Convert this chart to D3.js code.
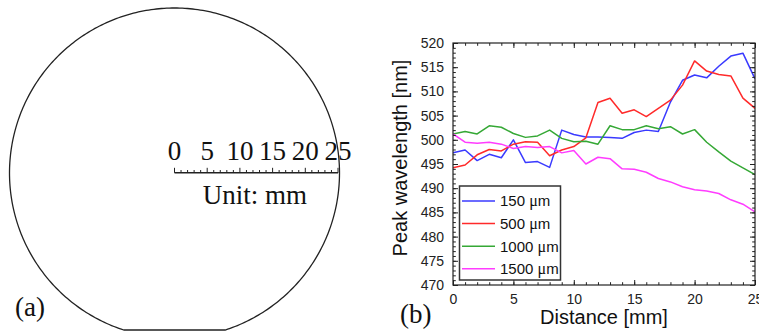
<!DOCTYPE html>
<html>
<head>
<meta charset="utf-8">
<script src="https://cdn.jsdelivr.net/npm/d3@7"></script>
<style>
  html, body { margin: 0; padding: 0; background: #fff; }
  svg { display: block; }
</style>
</head>
<body>
<svg id="fig" width="759" height="335"></svg>
<script>
// Distance along the wafer radius [mm]
const distance = d3.range(0, 26);

// Peak wavelength [nm] for each pixel size
const peak150 = [497.3, 497.9, 495.7, 497.0, 496.3, 500.0, 495.3, 495.5, 494.3, 502.0, 501.1, 500.6, 500.6,
                 500.5, 500.3, 501.5, 502.0, 501.7, 507.8, 512.3, 513.4, 512.8, 515.2, 517.3, 517.9, 512.6];
const peak500 = [494.2, 494.8, 496.9, 498.0, 497.7, 499.1, 499.6, 499.5, 496.7, 497.9, 498.6, 500.4, 507.7,
                 508.6, 505.5, 506.2, 504.8, 506.5, 508.2, 511.3, 516.3, 514.2, 513.5, 513.2, 508.6, 506.5];
const peak1000 = [501.2, 501.7, 501.2, 502.9, 502.6, 501.3, 500.5, 500.8, 502.0, 500.3, 499.6, 499.7, 499.1,
                  502.9, 502.1, 502.1, 502.9, 502.3, 502.7, 501.2, 502.1, 499.5, 497.5, 495.6, 494.2, 492.8];
const peak1500 = [501.2, 499.5, 499.3, 499.5, 499.1, 498.2, 498.6, 498.4, 498.6, 497.3, 497.8, 495.0, 496.4,
                  496.1, 494.0, 493.9, 493.3, 492.0, 491.3, 490.3, 489.7, 489.4, 488.9, 487.6, 486.7, 485.1];

const seriesNames = ["150", "500", "1000", "1500"];
const seriesValues = [peak150, peak500, peak1000, peak1500];
const seriesColors = ["#3a3aff", "#ff2a2a", "#35a835", "#ff3cff"];

const xTicks = [0, 5, 10, 15, 20, 25];
const yTicks = [470, 475, 480, 485, 490, 495, 500, 505, 510, 515, 520];
const scaleBarTicks = [0, 5, 10, 15, 20, 25];

const svg = d3.select("#fig");

// ---------- (a) wafer outline with a radial scale bar ----------
const serif = "'Liberation Serif', 'Times New Roman', serif";
const wafer = { cx: 174.5, cy: 173, r: 165, flatY: 330 };
const half = Math.sqrt(wafer.r * wafer.r - (wafer.flatY - wafer.cy) ** 2);
const a0 = Math.atan2(wafer.flatY - wafer.cy, half);
const a1 = Math.PI - a0;
const arcPts = d3.range(0, 361).map(i => {
  const t = a1 + (2 * Math.PI - (a1 - a0)) * i / 360;
  return [wafer.cx + wafer.r * Math.cos(t), wafer.cy + wafer.r * Math.sin(t)];
});
svg.append("path")
  .attr("d", d3.line()(arcPts) + "Z")
  .attr("fill", "none").attr("stroke", "#222").attr("stroke-width", 1.3);

const sb = d3.scaleLinear().domain([0, 25]).range([wafer.cx, wafer.cx + 163.5]);
const sbY = 172.8;
svg.append("line")
  .attr("x1", sb(0)).attr("x2", sb(25)).attr("y1", sbY).attr("y2", sbY)
  .attr("stroke", "#222").attr("stroke-width", 1.5);
svg.append("g").selectAll("line").data(d3.range(0, 26)).join("line")
  .attr("x1", d => sb(d)).attr("x2", d => sb(d))
  .attr("y1", sbY).attr("y2", d => sbY - (d % 5 === 0 ? 5 : 2.8))
  .attr("stroke", "#222").attr("stroke-width", 1);
svg.append("g").selectAll("text").data(scaleBarTicks).join("text")
  .attr("x", d => sb(d)).attr("y", 159.5)
  .attr("text-anchor", "middle")
  .style("font-family", serif).style("font-size", "27px").attr("fill", "#111")
  .text(d => d);
svg.append("text").attr("x", 255).attr("y", 203.5).attr("text-anchor", "middle")
  .style("font-family", serif).style("font-size", "27px").attr("fill", "#111")
  .text("Unit: mm");
svg.append("text").attr("x", 15).attr("y", 316)
  .style("font-family", serif).style("font-size", "27px").attr("fill", "#111")
  .text("(a)");

// ---------- (b) peak wavelength versus distance ----------
const sans = "'Liberation Sans', Arial, sans-serif";
const x = d3.scaleLinear().domain([0, 25]).range([453, 755]);
const y = d3.scaleLinear().domain([470, 520]).range([285, 43]);

const plot = svg.append("g");
plot.append("defs").append("clipPath").attr("id", "plotClip")
  .append("rect").attr("x", x(0)).attr("y", y(520)).attr("width", x(25) - x(0)).attr("height", y(470) - y(520));

// data lines
const line = d3.line().x((d, i) => x(distance[i])).y(d => y(d));
plot.append("g").attr("clip-path", "url(#plotClip)")
  .selectAll("path").data(seriesValues).join("path")
  .attr("d", d => line(d))
  .attr("fill", "none")
  .attr("stroke", (d, i) => seriesColors[i])
  .attr("stroke-width", 1.5)
  .attr("stroke-linejoin", "round");

// axes with inward major and minor ticks on all four sides
function styleAxis(g) {
  g.select(".domain").remove();
  g.selectAll(".tick line").attr("stroke", "#222").attr("stroke-width", 1);
  g.selectAll("text").style("font-family", sans).style("font-size", "14px").attr("fill", "#222");
}
const minorX = d3.range(0, 26);
const minorY = d3.range(470, 521);

plot.append("g").attr("transform", `translate(0,${y(470)})`)
  .call(d3.axisBottom(x).tickValues(minorX).tickSize(-2.8).tickFormat(""))
  .call(styleAxis);
plot.append("g").attr("transform", `translate(0,${y(470)})`)
  .call(d3.axisBottom(x).tickValues(xTicks).tickSize(-5).tickPadding(9).tickFormat(d3.format("d")))
  .call(styleAxis);
plot.append("g").attr("transform", `translate(0,${y(520)})`)
  .call(d3.axisTop(x).tickValues(minorX).tickSize(-2.8).tickFormat(""))
  .call(styleAxis);
plot.append("g").attr("transform", `translate(0,${y(520)})`)
  .call(d3.axisTop(x).tickValues(xTicks).tickSize(-5).tickFormat(""))
  .call(styleAxis);

plot.append("g").attr("transform", `translate(${x(0)},0)`)
  .call(d3.axisLeft(y).tickValues(minorY).tickSize(-2.8).tickFormat(""))
  .call(styleAxis);
plot.append("g").attr("transform", `translate(${x(0)},0)`)
  .call(d3.axisLeft(y).tickValues(yTicks).tickSize(-5).tickPadding(9).tickFormat(d3.format("d")))
  .call(styleAxis);
plot.append("g").attr("transform", `translate(${x(25)},0)`)
  .call(d3.axisRight(y).tickValues(minorY).tickSize(-2.8).tickFormat(""))
  .call(styleAxis);
plot.append("g").attr("transform", `translate(${x(25)},0)`)
  .call(d3.axisRight(y).tickValues(yTicks).tickSize(-5).tickFormat(""))
  .call(styleAxis);

// plot frame
plot.append("rect")
  .attr("x", x(0)).attr("y", y(520)).attr("width", x(25) - x(0)).attr("height", y(470) - y(520))
  .attr("fill", "none").attr("stroke", "#222").attr("stroke-width", 1.2);

// axis titles
plot.append("text").attr("x", (x(0) + x(25)) / 2).attr("y", 324).attr("text-anchor", "middle")
  .style("font-family", sans).style("font-size", "20px").attr("fill", "#111")
  .text("Distance [mm]");
plot.append("text")
  .attr("transform", `translate(407,${(y(470) + y(520)) / 2 - 6}) rotate(-90)`)
  .attr("text-anchor", "middle")
  .style("font-family", sans).style("font-size", "20px").attr("fill", "#111")
  .text("Peak wavelength [nm]");

// legend
const legend = plot.append("g");
legend.append("rect").attr("x", 459.5).attr("y", 186).attr("width", 101).attr("height", 94)
  .attr("fill", "#fff").attr("stroke", "#333").attr("stroke-width", 1.5);
const rows = legend.selectAll("g.row").data(seriesNames).join("g").attr("class", "row")
  .attr("transform", (d, i) => `translate(0,${201 + i * 22.6})`);
rows.append("line").attr("x1", 462).attr("x2", 495).attr("y1", 0).attr("y2", 0)
  .attr("stroke", (d, i) => seriesColors[i]).attr("stroke-width", 1.5);
const lt = rows.append("text").attr("x", 500).attr("y", 0).attr("dy", "0.36em")
  .style("font-family", sans).style("font-size", "15px").attr("fill", "#111");
lt.append("tspan").text(d => d + " ");
lt.append("tspan").style("font-family", serif).style("font-size", "16px").text("\u03bc");
lt.append("tspan").text("m");

plot.append("text").attr("x", 400).attr("y", 323)
  .style("font-family", serif).style("font-size", "27px").attr("fill", "#111")
  .text("(b)");
</script>
</body>
</html>
